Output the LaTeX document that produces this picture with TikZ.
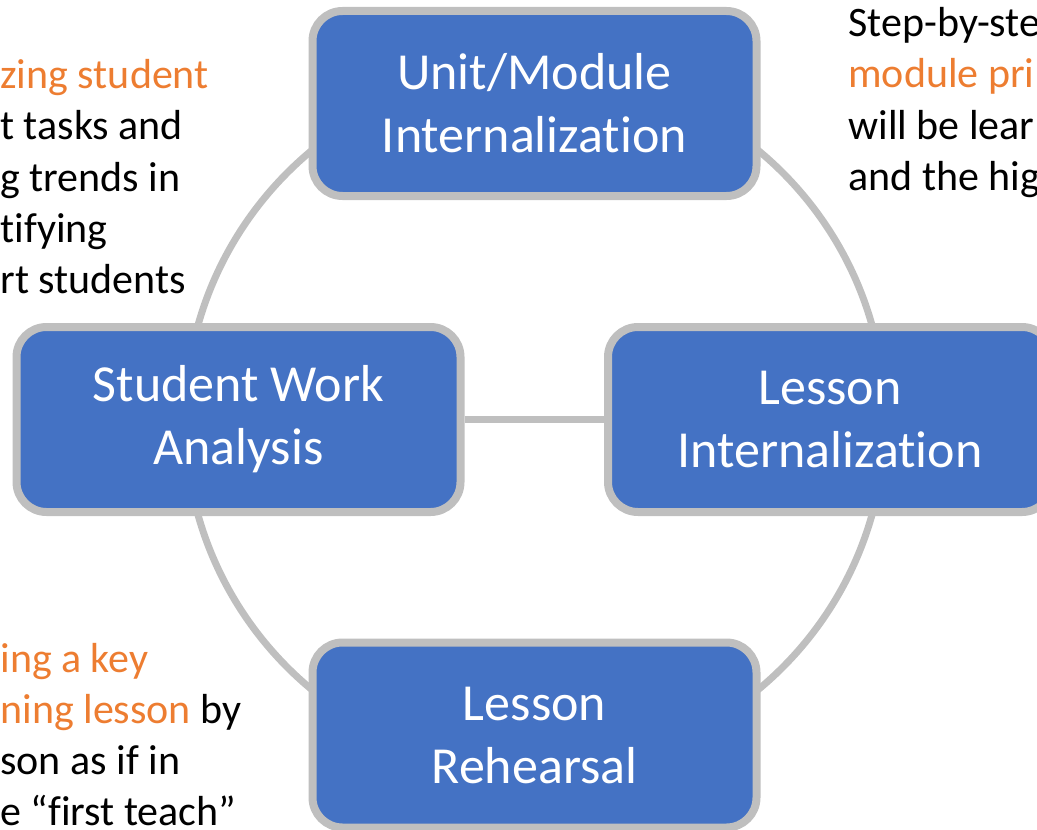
\documentclass[tikz,border=0pt]{standalone}
\usepackage{fontspec}
\setmainfont{Carlito}[Ligatures={NoCommon}]

\definecolor{cycleblue}{HTML}{4472C4}
\definecolor{ringgray}{HTML}{BFBFBF}
\definecolor{noteorange}{HTML}{ED7D31}

\tikzset{
  stage/.style={draw=ringgray, line width=4pt, fill=cycleblue, rounded corners=15pt,
    minimum width=222pt, minimum height=92.5pt, inner sep=0pt,
    align=center, text=white, font=\fontsize{26}{31.5}\selectfont},
  note/.style={anchor=base west, inner sep=0pt, font=\fontsize{21}{25.5}\selectfont},
  ring/.style={draw=ringgray, line width=3.5pt}
}

\begin{document}
\begin{tikzpicture}[x=0.5pt,y=-0.5pt]
\clip (0,0) rectangle (1037,829);

% the cycle behind the boxes
\coordinate (hub) at (535,420);
\draw[ring] (hub) circle[radius=175pt];

\node[stage] (unit)   at (534.5,103.5) {Unit/Module\\Internalization};
\node[stage] (swa)    at (238.5,419.5) {Student Work\\Analysis};
\node[stage] (lesint) at (830,419.5)   {Lesson\\Internalization};
\node[stage] (reh)    at (534.5,735)   {Lesson\\Rehearsal};

\draw[ring] (swa) -- (lesint);

% side notes, cut by the frame
\foreach \t [count=\i] in {{\textcolor{noteorange}{zing student}},t tasks and,g trends in,tifying,rt students}
  \node[note] (swanote\i) at (0,{89+51*(\i-1)}) {\t};

\foreach \t [count=\i] in {Step-by-ste,{\textcolor{noteorange}{module pri}},will be lear,and the hig}
  \node[note] (unitnote\i) at (848,{37+51*(\i-1)}) {\t};

\foreach \t [count=\i] in {{\textcolor{noteorange}{ing a key}},{\textcolor{noteorange}{ning lesson} by},son as if in,e “first teach”}
  \node[note] (rehnote\i) at (0,{672+51*(\i-1)}) {\t};

\end{tikzpicture}
\end{document}
